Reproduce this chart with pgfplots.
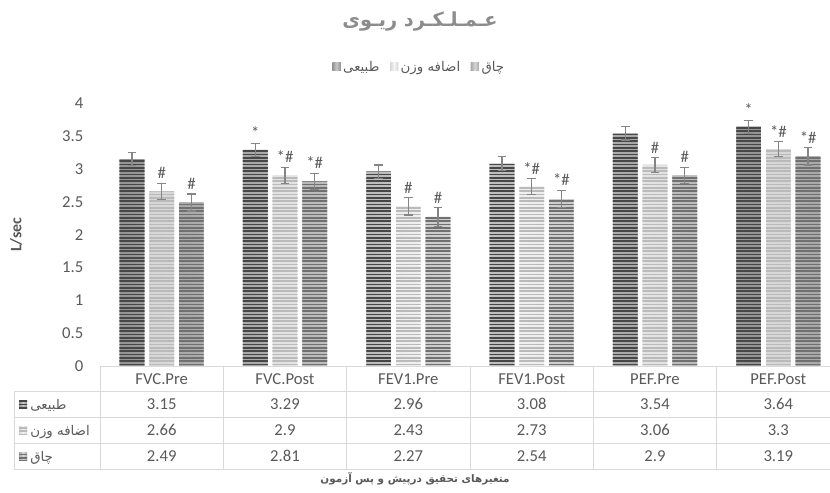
\documentclass[border=0pt]{standalone}
\usepackage{pgfplots}
\pgfplotsset{compat=1.18}
\usepackage{pgfplotstable}
\usetikzlibrary{patterns}
\usepackage{fontspec}
\setmainfont{Carlito}
\newfontfamily\fa[Script=Arabic]{DejaVu Sans}
\TeXXeTstate=1
\definecolor{txt}{HTML}{595959}
\definecolor{gridc}{HTML}{D9D9D9}
\definecolor{errc}{HTML}{858585}
\definecolor{titc}{HTML}{8C8C8C}
\pgfdeclarepatternformonly{hstripes}{\pgfpoint{-1pt}{0pt}}{\pgfpoint{201pt}{2.5pt}}{\pgfpoint{200pt}{2.5pt}}{%
  \pgfpathrectangle{\pgfpoint{-1pt}{0pt}}{\pgfpoint{202pt}{1.2pt}}\pgfusepath{fill}}
\def\labN{}
\def\labH{\#}
\def\labS{*}
\def\labSH{*\#}
\pgfplotstableread{
x a ea la b eb lb c ec lc
0 3.15 0.10 N 2.66 0.12 H 2.49 0.13 H
1 3.29 0.10 S 2.90 0.12 SH 2.81 0.12 SH
2 2.96 0.10 N 2.43 0.13 H 2.27 0.14 H
3 3.08 0.11 N 2.73 0.12 SH 2.54 0.13 SH
4 3.54 0.10 N 3.06 0.11 H 2.90 0.12 H
5 3.64 0.10 S 3.30 0.11 SH 3.19 0.13 SH
}\data
\tikzset{
 shA/.style={draw=none, left color=black!42, right color=black!42, middle color=black!22},
 shB/.style={draw=none, left color=black!16, right color=black!16, middle color=black!4},
 shC/.style={draw=none, left color=black!34, right color=black!34, middle color=black!16},
 pA/.style={draw=none, fill=none, pattern=hstripes, pattern color=black!72},
 pB/.style={draw=none, fill=none, pattern=hstripes, pattern color=black!27},
 pC/.style={draw=none, fill=none, pattern=hstripes, pattern color=black!56},
 serA/.style={shA, postaction={pA}},
 serB/.style={shB, postaction={pB}},
 serC/.style={shC, postaction={pC}},
 lab/.style={anchor=south, inner sep=0pt, text=txt, font=\fontsize{12.5}{14}\selectfont, yshift=\err*49.4pt+3.3pt},
}
\begin{document}
\begin{tikzpicture}
\begin{axis}[
  at={(75pt,94.125pt)}, anchor=south west,
  scale only axis, width=555pt, height=197.6pt,
  xmin=-0.5, xmax=5.5, ymin=0, ymax=4,
  ybar, bar width=18.5pt,
  axis line style={draw=none}, tick style={draw=none},
  xtick=\empty, ytick={0,0.5,...,4},
  /pgf/number format/assume math mode=true,
  yticklabel style={font=\fontsize{12.5}{14}\selectfont, text=txt, xshift=-9pt},
  ylabel={\bfseries L/sec},
  y label style={at={(axis description cs:-0.1135,0.5)}, anchor=center, font=\fontsize{12}{14}\selectfont, text=txt},
  legend columns=3,
  legend style={at={(axis description cs:0.432,1.137)}, anchor=center, draw=none, fill=none,
     font=\fa\fontsize{10}{12}\selectfont, text=txt,
     /tikz/every even column/.append style={column sep=6pt}},
  legend image code/.code={\path[#1] (0pt,-2.5pt) rectangle (6pt,3.5pt);},
  error bars/y dir=both, error bars/y explicit,
  error bars/error bar style={color=errc, line width=0.9pt},
  error bars/error mark options={rotate=90, mark size=3.2pt, line width=0.9pt, color=errc},
]
\addplot[serA, bar shift=-22.3pt] table[x=x, y=a] {\data};
\addlegendentry{\beginR طبیعی\endR}
\addplot[serB, bar shift=0pt] table[x=x, y=b] {\data};
\addlegendentry{\beginR اضافه وزن\endR}
\addplot[serC, bar shift=22.3pt] table[x=x, y=c] {\data};
\addlegendentry{\beginR چاق\endR}
\addplot[pA, bar shift=-22.3pt, forget plot,
  nodes near coords={\csname lab\pgfplotspointmeta\endcsname}, point meta=explicit symbolic,
  visualization depends on={\thisrow{ea} \as \err},
  every node near coord/.append style={lab}]
  table[x=x, y=a, y error=ea, meta=la] {\data};
\addplot[pB, bar shift=0pt, forget plot,
  nodes near coords={\csname lab\pgfplotspointmeta\endcsname}, point meta=explicit symbolic,
  visualization depends on={\thisrow{eb} \as \err},
  every node near coord/.append style={lab}]
  table[x=x, y=b, y error=eb, meta=lb] {\data};
\addplot[pC, bar shift=22.3pt, forget plot,
  nodes near coords={\csname lab\pgfplotspointmeta\endcsname}, point meta=explicit symbolic,
  visualization depends on={\thisrow{ec} \as \err},
  every node near coord/.append style={lab}]
  table[x=x, y=c, y error=ec, meta=lc] {\data};
\end{axis}
\begin{scope}[x=0.75pt, y=0.75pt]
 \draw[gridc, line width=0.75pt] (100,125.5) -- (840,125.5);
 \foreach \yy in {100,74.5,48.5,23} \draw[gridc, line width=0.75pt] (14,\yy) -- (840,\yy);
 \draw[gridc, line width=0.75pt] (14,100) -- (14,23);
 \foreach \xx in {100,223.3,346.7,470,593.3,716.7,840} \draw[gridc, line width=0.75pt] (\xx,125.5) -- (\xx,23);
 \begin{scope}[every node/.style={text=txt, font=\fontsize{12.5}{14}\selectfont, inner sep=0pt, anchor=base}]
  \node at (161.7,107.5) {FVC.Pre};
  \node at (285,107.5) {FVC.Post};
  \node at (408.3,107.5) {FEV1.Pre};
  \node at (531.7,107.5) {FEV1.Post};
  \node at (655,107.5) {PEF.Pre};
  \node at (778.3,107.5) {PEF.Post};
  \node at (161.7,82) {3.15}; \node at (285,82) {3.29}; \node at (408.3,82) {2.96};
  \node at (531.7,82) {3.08}; \node at (655,82) {3.54}; \node at (778.3,82) {3.64};
  \node at (161.7,56.25) {2.66}; \node at (285,56.25) {2.9}; \node at (408.3,56.25) {2.43};
  \node at (531.7,56.25) {2.73}; \node at (655,56.25) {3.06}; \node at (778.3,56.25) {3.3};
  \node at (161.7,30.5) {2.49}; \node at (285,30.5) {2.81}; \node at (408.3,30.5) {2.27};
  \node at (531.7,30.5) {2.54}; \node at (655,30.5) {2.9}; \node at (778.3,30.5) {3.19};
 \end{scope}
 \path[serA] (19,83.5) rectangle (27,91.5);
 \path[serB] (19,57.75) rectangle (27,65.75);
 \path[serC] (19,32) rectangle (27,40);
 \begin{scope}[every node/.style={text=txt, font=\fa\fontsize{10}{12}\selectfont, inner sep=0pt, anchor=base west}]
  \node at (30,82.5) {\beginR طبیعی\endR};
  \node at (30,56.75) {\beginR اضافه وزن\endR};
  \node at (30,31) {\beginR چاق\endR};
 \end{scope}
 \node[text=txt, font=\fa\bfseries\fontsize{7.8}{9}\selectfont] at (415,13) {\beginR متغیرهای تحقیق درپیش و پس آزمون\endR};
 \node[text=titc, font=\fa\bfseries\fontsize{14.5}{16}\selectfont] at (420,470.5) {\beginR عـمـلـکـرد ریـوی\endR};
\end{scope}
\pgfresetboundingbox
\path[use as bounding box] (0,0) rectangle (622.5pt,369pt);
\end{tikzpicture}
\end{document}
